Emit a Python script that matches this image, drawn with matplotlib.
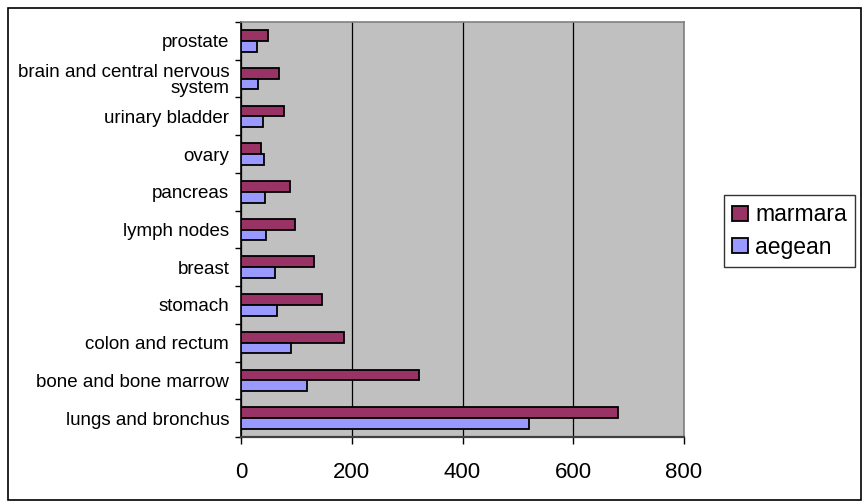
import matplotlib.pyplot as plt
import numpy as np
from matplotlib.patches import Rectangle
from matplotlib.ticker import FixedLocator, NullFormatter

plt.rcParams['font.family'] = ['Liberation Sans', 'DejaVu Sans']

# cancer sites, listed bottom to top
sites = ['lungs and bronchus', 'bone and bone marrow', 'colon and rectum', 'stomach',
         'breast', 'lymph nodes', 'pancreas', 'ovary', 'urinary bladder',
         'brain and central nervous\nsystem', 'prostate']
marmara = [680, 321, 186, 146, 131, 97, 88, 36, 77, 68, 48]
aegean = [520, 119, 91, 65, 62, 45, 43, 42, 39, 31, 28]

fig = plt.figure(figsize=(8.63, 5.01), dpi=100)
fig.patches.append(Rectangle((8 / 863, 0.002), 853 / 863, 1 - 8 / 501 - 0.002,
                             transform=fig.transFigure, fill=False,
                             edgecolor='black', linewidth=1.2))

ax = fig.add_axes([241 / 863, 1 - 437 / 501, 443 / 863, 415 / 501])
ax.set_facecolor('#c0c0c0')

y = np.arange(len(sites))
h = 0.285
ax.barh(y + h / 2, marmara, height=h, color='#993366', edgecolor='black',
        linewidth=1.3, label='marmara', zorder=3)
ax.barh(y - h / 2, aegean, height=h, color='#9999ff', edgecolor='black',
        linewidth=1.3, label='aegean', zorder=3)

ax.set_xlim(0, 800)
ax.set_ylim(-0.5, len(sites) - 0.5)
ax.grid(axis='x', color='black', linewidth=0.9, zorder=1)
ax.set_xticks([0, 200, 400, 600, 800])
ax.tick_params(axis='x', direction='out', length=5, width=1, pad=13, labelsize=16)

ax.set_yticks(y)
ax.set_yticklabels(sites, fontsize=13.5, ha='right', linespacing=0.95)
ax.tick_params(axis='y', which='major', length=0, pad=8.5)
ax.yaxis.set_minor_locator(FixedLocator(np.arange(-0.5, len(sites), 1.0)))
ax.yaxis.set_minor_formatter(NullFormatter())
ax.tick_params(axis='y', which='minor', direction='out', length=4.5, width=1)

for side in ['top', 'right']:
    ax.spines[side].set_color('#808080')
    ax.spines[side].set_linewidth(1.2)
ax.spines['bottom'].set_color('#404040')
ax.spines['bottom'].set_linewidth(1.6)
ax.spines['left'].set_color('black')
ax.spines['left'].set_linewidth(1.2)

handles, labels = ax.get_legend_handles_labels()
leg = fig.legend(handles, labels, loc='center left',
                 bbox_to_anchor=(724 / 863, 1 - 231 / 501), fontsize=16.5,
                 frameon=True, fancybox=False, shadow=False,
                 handlelength=0.7, handleheight=0.62, handletextpad=0.3,
                 borderpad=0.35, labelspacing=0.4, borderaxespad=0)
leg.get_frame().set_edgecolor('black')
leg.get_frame().set_linewidth(1)

fig.savefig('out.png', dpi=100)
